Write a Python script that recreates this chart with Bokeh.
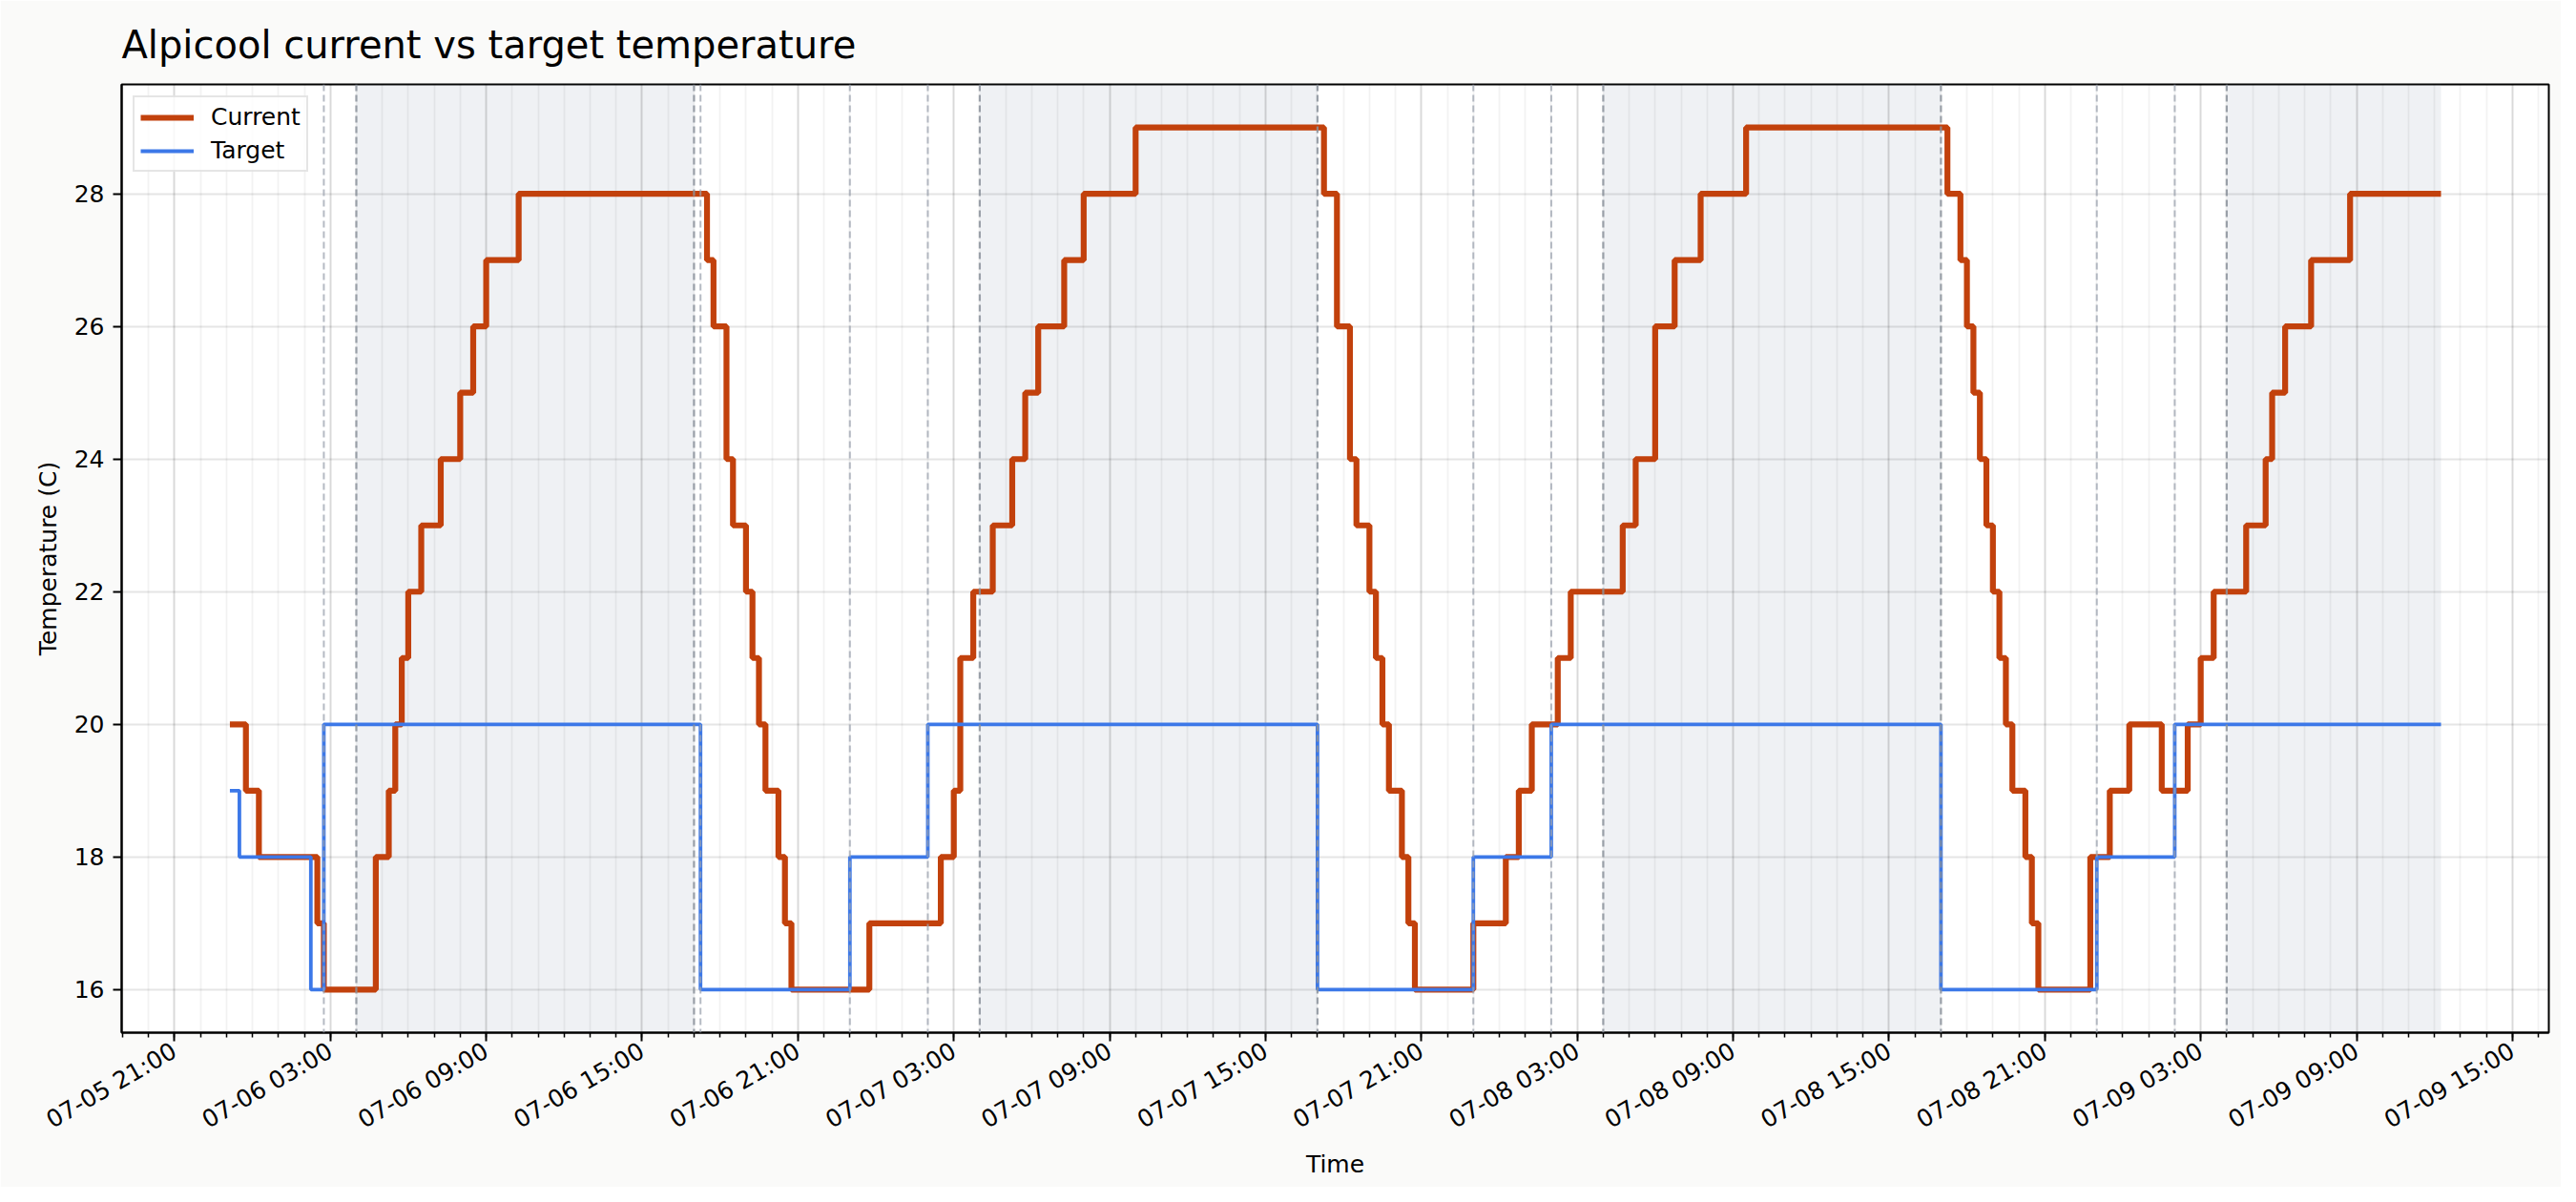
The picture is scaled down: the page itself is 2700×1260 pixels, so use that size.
import math
import pandas as pd
from bokeh.plotting import figure
from bokeh.models import (ColumnDataSource, Range1d, FixedTicker, CustomJSTickFormatter,
                          BoxAnnotation, Span, Legend, LegendItem)
from bokeh.embed import file_html
from bokeh.resources import INLINE

# ---------------- data ----------------
current_times = [
    "2025-07-05 23:08", "2025-07-05 23:45", "2025-07-06 00:15", "2025-07-06 02:30", "2025-07-06 02:45",
    "2025-07-06 04:45", "2025-07-06 05:15", "2025-07-06 05:30", "2025-07-06 05:45", "2025-07-06 06:00",
    "2025-07-06 06:30", "2025-07-06 07:15", "2025-07-06 08:00", "2025-07-06 08:30", "2025-07-06 09:00",
    "2025-07-06 10:15", "2025-07-06 17:30", "2025-07-06 17:45", "2025-07-06 18:15", "2025-07-06 18:30",
    "2025-07-06 19:00", "2025-07-06 19:15", "2025-07-06 19:30", "2025-07-06 19:45", "2025-07-06 20:15",
    "2025-07-06 20:30", "2025-07-06 20:45", "2025-07-06 23:45", "2025-07-07 02:30", "2025-07-07 03:00",
    "2025-07-07 03:15", "2025-07-07 03:45", "2025-07-07 04:30", "2025-07-07 05:15", "2025-07-07 05:45",
    "2025-07-07 06:15", "2025-07-07 07:15", "2025-07-07 08:00", "2025-07-07 10:00", "2025-07-07 17:15",
    "2025-07-07 17:45", "2025-07-07 18:15", "2025-07-07 18:30", "2025-07-07 19:00", "2025-07-07 19:15",
    "2025-07-07 19:30", "2025-07-07 19:45", "2025-07-07 20:15", "2025-07-07 20:30", "2025-07-07 20:45",
    "2025-07-07 23:00", "2025-07-08 00:15", "2025-07-08 00:45", "2025-07-08 01:15", "2025-07-08 02:15",
    "2025-07-08 02:45", "2025-07-08 04:45", "2025-07-08 05:15", "2025-07-08 06:00", "2025-07-08 06:45",
    "2025-07-08 07:45", "2025-07-08 09:30", "2025-07-08 17:15", "2025-07-08 17:45", "2025-07-08 18:00",
    "2025-07-08 18:15", "2025-07-08 18:30", "2025-07-08 18:45", "2025-07-08 19:00", "2025-07-08 19:15",
    "2025-07-08 19:30", "2025-07-08 19:45", "2025-07-08 20:15", "2025-07-08 20:30", "2025-07-08 20:45",
    "2025-07-08 22:45", "2025-07-08 23:30", "2025-07-09 00:15", "2025-07-09 01:30", "2025-07-09 02:30",
    "2025-07-09 03:00", "2025-07-09 03:30", "2025-07-09 04:45", "2025-07-09 05:30", "2025-07-09 05:45",
    "2025-07-09 06:15", "2025-07-09 07:15", "2025-07-09 08:45", "2025-07-09 12:15",
]
current_values = [
    20, 19, 18, 17, 16,
    18, 19, 20, 21, 22,
    23, 24, 25, 26, 27,
    28, 27, 26, 24, 23,
    22, 21, 20, 19, 18,
    17, 16, 17, 18, 19,
    21, 22, 23, 24, 25,
    26, 27, 28, 29, 28,
    26, 24, 23, 22, 21,
    20, 19, 18, 17, 16,
    17, 18, 19, 20, 21,
    22, 23, 24, 26, 27,
    28, 29, 28, 27, 26,
    25, 24, 23, 22, 21,
    20, 19, 18, 17, 16,
    18, 19, 20, 19, 20,
    21, 22, 23, 24, 25,
    26, 27, 28, 28,
]

target_times = [
    "2025-07-05 23:08", "2025-07-05 23:30", "2025-07-06 02:15", "2025-07-06 02:45", "2025-07-06 17:15",
    "2025-07-06 23:00", "2025-07-07 02:00", "2025-07-07 17:00", "2025-07-07 23:00", "2025-07-08 02:00",
    "2025-07-08 17:00", "2025-07-08 23:00", "2025-07-09 02:00", "2025-07-09 12:15",
]
target_values = [19, 18, 16, 20, 16, 18, 20, 16, 18, 20, 16, 18, 20, 20]

# shaded periods
span_starts = ["2025-07-06 04:00", "2025-07-07 04:00", "2025-07-08 04:00", "2025-07-09 04:00"]
span_ends = ["2025-07-06 17:00", "2025-07-07 17:00", "2025-07-08 17:00", "2025-07-09 12:15"]

# dashed event markers
event_times_strong = ["2025-07-06 04:00", "2025-07-06 17:00", "2025-07-07 04:00", "2025-07-07 17:00",
                      "2025-07-08 04:00", "2025-07-08 17:00", "2025-07-09 04:00"]
event_times_light = ["2025-07-06 02:45", "2025-07-06 17:15", "2025-07-06 23:00", "2025-07-07 02:00",
                     "2025-07-07 23:00", "2025-07-08 02:00", "2025-07-08 23:00", "2025-07-09 02:00"]

x_major_ticks = ["2025-07-05 21:00", "2025-07-06 03:00", "2025-07-06 09:00", "2025-07-06 15:00",
                 "2025-07-06 21:00", "2025-07-07 03:00", "2025-07-07 09:00", "2025-07-07 15:00",
                 "2025-07-07 21:00", "2025-07-08 03:00", "2025-07-08 09:00", "2025-07-08 15:00",
                 "2025-07-08 21:00", "2025-07-09 03:00", "2025-07-09 09:00", "2025-07-09 15:00"]
y_ticks = [16, 18, 20, 22, 24, 26, 28]
x_limits = ["2025-07-05 18:58", "2025-07-09 16:24"]
y_limits = [15.35, 29.65]

title_text = "Alpicool current vs target temperature"
x_label = "Time"
y_label = "Temperature (C)"


def ms(ts):
    return pd.Timestamp(ts).value / 1e6


FONT = "DejaVu Sans"
RED = "#c2410c"
BLUE = "#3c78e8"

p = figure(width=2684, height=1244, output_backend="svg", toolbar_location=None,
           x_range=Range1d(ms(x_limits[0]), ms(x_limits[1])),
           y_range=Range1d(y_limits[0], y_limits[1]),
           min_border_left=127, min_border_right=13, min_border_top=88, min_border_bottom=162)

p.background_fill_color = "white"
p.border_fill_color = "#fafaf9"
p.outline_line_color = "black"
p.outline_line_width = 2

# title
p.title.text = title_text
p.title.text_font = FONT
p.title.text_font_size = "40px"
p.title.text_font_style = "normal"
p.title.text_color = "black"
p.title.align = "left"
p.title.offset = 0
p.title.standoff = 38
p.title.text_line_height = 0.8

# shaded spans (below grid)
for s, e in zip(span_starts, span_ends):
    p.add_layout(BoxAnnotation(left=ms(s), right=ms(e), fill_color="#94a3b8", fill_alpha=0.15,
                               line_alpha=0, level="image"))

# ticks
hour = 3600 * 1000
major_ms = [ms(t) for t in x_major_ticks]
minor_ms = []
t0 = ms("2025-07-05 19:00")
while t0 <= ms(x_limits[1]):
    minor_ms.append(t0)
    t0 += hour
p.xaxis.ticker = FixedTicker(ticks=major_ms, minor_ticks=minor_ms)
p.yaxis.ticker = FixedTicker(ticks=y_ticks, minor_ticks=[])
p.xaxis.formatter = CustomJSTickFormatter(code="""
const d = new Date(tick);
const z = (n) => String(n).padStart(2, '0');
return z(d.getUTCMonth() + 1) + '-' + z(d.getUTCDate()) + ' ' + z(d.getUTCHours()) + ':' + z(d.getUTCMinutes());
""")

for ax in (p.xaxis[0], p.yaxis[0]):
    ax.axis_line_color = "black"
    ax.axis_line_width = 2
    ax.major_tick_line_color = "black"
    ax.major_tick_line_width = 2
    ax.major_tick_out = 9
    ax.major_tick_in = 0
    ax.minor_tick_line_color = "black"
    ax.minor_tick_line_width = 1.5
    ax.minor_tick_out = 5
    ax.minor_tick_in = 0
    ax.major_label_text_font = FONT
    ax.major_label_text_font_size = "25px"
    ax.major_label_text_color = "black"
    ax.axis_label_text_font = FONT
    ax.axis_label_text_font_size = "25px"
    ax.axis_label_text_font_style = "normal"
    ax.axis_label_text_color = "black"

p.xaxis.axis_label = x_label
p.yaxis.axis_label = y_label
p.xaxis.major_label_orientation = math.pi / 6
p.xaxis.major_label_standoff = 8
p.yaxis.major_label_standoff = 9
p.xaxis.axis_label_standoff = 2
p.yaxis.axis_label_standoff = 10

# grid
p.xgrid.grid_line_color = "black"
p.xgrid.grid_line_alpha = 0.1
p.xgrid.grid_line_width = 2
p.xgrid.minor_grid_line_color = "black"
p.xgrid.minor_grid_line_alpha = 0.05
p.xgrid.minor_grid_line_width = 1.8
p.ygrid.grid_line_color = "black"
p.ygrid.grid_line_alpha = 0.1
p.ygrid.grid_line_width = 2

# data lines
cur_src = ColumnDataSource(dict(x=[ms(t) for t in current_times], y=current_values))
tgt_src = ColumnDataSource(dict(x=[ms(t) for t in target_times], y=target_values))
r_cur = p.step("x", "y", source=cur_src, mode="after", line_color=RED, line_width=6.2)
r_tgt = p.step("x", "y", source=tgt_src, mode="after", line_color=BLUE, line_width=3.8)

# dashed event lines
for t in event_times_strong:
    p.add_layout(Span(location=ms(t), dimension="height", line_color="#8b929b", line_alpha=0.85,
                      line_width=2.2, line_dash="7 4"))
for t in event_times_light:
    p.add_layout(Span(location=ms(t), dimension="height", line_color="#9ca3af", line_alpha=0.75,
                      line_width=2, line_dash="7 4"))

legend = Legend(items=[LegendItem(label="Current", renderers=[r_cur]),
                       LegendItem(label="Target", renderers=[r_tgt])],
                location="top_left", margin=12, padding=6, spacing=6,
                glyph_width=56, glyph_height=28, label_height=28, label_standoff=18,
                label_text_font=FONT, label_text_font_size="25px", label_text_color="black",
                background_fill_color="white", background_fill_alpha=0.8,
                border_line_color="#cccccc", border_line_width=2)
p.add_layout(legend)

open("out.html", "w").write(file_html(p, INLINE))
